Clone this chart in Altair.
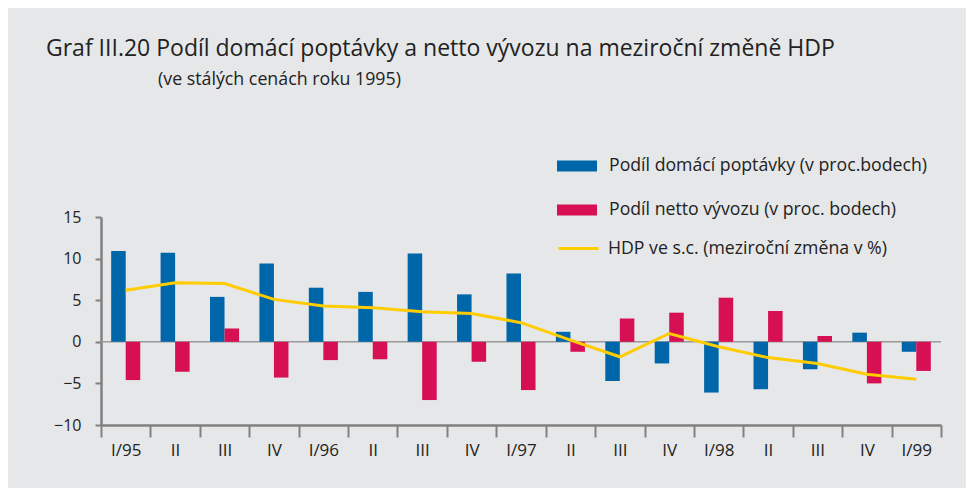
import altair as alt
import pandas as pd

quarters = ["I/95", "II/95", "III/95", "IV/95", "I/96", "II/96", "III/96", "IV/96",
            "I/97", "II/97", "III/97", "IV/97", "I/98", "II/98", "III/98", "IV/98", "I/99"]
domestic = [10.9, 10.7, 5.4, 9.4, 6.5, 6.0, 10.6, 5.7, 8.2, 1.2, -4.7, -2.6, -6.1, -5.7, -3.3, 1.1, -1.2]
net_exports = [-4.6, -3.6, 1.6, -4.3, -2.2, -2.1, -7.0, -2.4, -5.8, -1.2, 2.8, 3.5, 5.3, 3.7, 0.7, -5.0, -3.5]
gdp = [6.2, 7.1, 7.0, 5.1, 4.3, 4.1, 3.6, 3.4, 2.3, 0.2, -1.8, 1.0, -0.6, -1.9, -2.6, -3.9, -4.5]
series_names = ["Podíl domácí poptávky (v proc.bodech)",
                "Podíl netto vývozu (v proc. bodech)",
                "HDP ve s.c. (meziroční změna v %)"]
colors = ["#0066AA", "#D70F53", "#FFCC00"]
y_ticks = [-10, -5, 0, 5, 10, 15]
title_text = "Graf III.20 Podíl domácí poptávky a netto vývozu na meziroční změně HDP"
subtitle_text = "(ve stálých cenách roku 1995)"

FONT = "Open Sans"
TEXT = "#222222"
AXIS = "#808080"
BG = "#E6E7E9"

bars_df = pd.DataFrame({
    "q": quarters * 2,
    "series": [series_names[0]] * len(quarters) + [series_names[1]] * len(quarters),
    "value": domestic + net_exports,
})
line_df = pd.DataFrame({"q": quarters, "value": gdp, "series": [series_names[2]] * len(quarters)})
zero_df = pd.DataFrame({"v": [0]})
title_df = pd.DataFrame({"t": [title_text]})
sub_df = pd.DataFrame({"t": [subtitle_text]})

x_axis = alt.Axis(
    title=None, tickBand="extent", labelAngle=0,
    labelExpr="!datum.value ? '' : (split(datum.value, '/')[0] == 'I' ? datum.value : split(datum.value, '/')[0])",
    domainColor=AXIS, domainWidth=2.5, tickColor=AXIS, tickWidth=2, tickSize=12,
    labelPadding=5, labelFontSize=17, labelFont=FONT, labelColor=TEXT,
)
y_axis = alt.Axis(
    title=None, values=y_ticks, grid=False, domainColor=AXIS, domainWidth=2.5,
    tickColor=AXIS, tickWidth=2, tickSize=6, labelPadding=14, labelFontSize=16,
    labelFont=FONT, labelColor=TEXT,
)
x_enc = alt.X("q:N", sort=quarters,
              scale=alt.Scale(domain=quarters, paddingInner=0, paddingOuter=0),
              axis=x_axis)
y_scale = alt.Scale(domain=[-10, 15], nice=False, zero=False)

rect_path = "M-1,-0.27H1V0.27H-1Z"

bar_legend = alt.Legend(
    title=None, orient="none", legendX=456, legendY=-71, direction="vertical",
    symbolSize=1600, symbolType=rect_path, symbolStrokeWidth=0,
    labelFont=FONT, labelFontSize=17.7, labelColor=TEXT, labelOffset=12,
    rowPadding=15, padding=0, labelLimit=500,
)
line_legend = alt.Legend(
    title=None, orient="none", legendX=456, legendY=10, direction="vertical",
    symbolSize=1600, symbolType="stroke", symbolStrokeWidth=3,
    labelFont=FONT, labelFontSize=17.7, labelColor=TEXT, labelOffset=8,
    padding=0, labelLimit=500,
)

zero = alt.Chart(zero_df).mark_rule(color="#9A9A9A", strokeWidth=1.5).encode(
    y=alt.Y("v:Q", scale=y_scale, axis=y_axis)
)

bars = alt.Chart(bars_df).mark_bar().encode(
    x=x_enc,
    xOffset=alt.XOffset("series:N", sort=series_names[:2],
                        scale=alt.Scale(domain=series_names[:2], paddingOuter=0.7, paddingInner=0)),
    y=alt.Y("value:Q", scale=y_scale, axis=y_axis),
    color=alt.Color("series:N", scale=alt.Scale(domain=series_names[:2], range=colors[:2]),
                    legend=bar_legend),
)

line = alt.Chart(line_df).mark_line(strokeWidth=3).encode(
    x=alt.X("q:N", sort=quarters),
    y=alt.Y("value:Q", scale=y_scale),
    stroke=alt.Stroke("series:N", scale=alt.Scale(domain=series_names[2:], range=colors[2:]),
                      legend=line_legend),
)

title = alt.Chart(title_df).mark_text(
    align="left", baseline="alphabetic", font=FONT, fontSize=23, color=TEXT
).encode(x=alt.value(-55), y=alt.value(-161), text="t:N")

subtitle = alt.Chart(sub_df).mark_text(
    align="left", baseline="alphabetic", font=FONT, fontSize=17.8, color=TEXT
).encode(x=alt.value(57), y=alt.value(-132), text="t:N")

chart = alt.layer(zero, bars, line, title, subtitle).properties(
    width=840, height=208,
    autosize=alt.AutoSizeParams(type="none"),
    padding={"left": 93, "top": 209, "right": 25, "bottom": 63},
    background=BG,
).resolve_scale(color="independent", stroke="independent").configure_view(stroke=None)

chart.save("out.html", embed_options={"renderer": "svg", "actions": False})
